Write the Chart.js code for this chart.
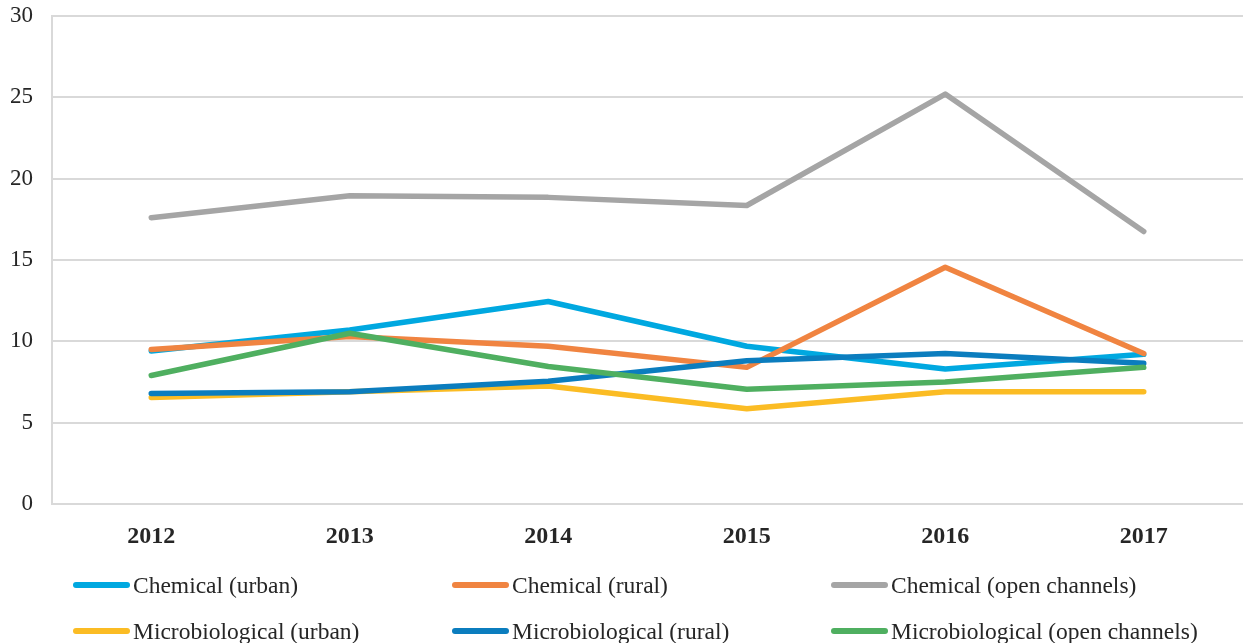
<!DOCTYPE html>
<html>
<head>
<meta charset="utf-8">
<script src="https://cdn.jsdelivr.net/npm/chart.js@4"></script>
<style>
  body { margin: 0; background: #fff; }
  #wrap { position: relative; width: 1243px; height: 643px; }
  #legend { position: absolute; left: 0; top: 0; width: 1243px; height: 643px; pointer-events: none;
            font-family: "Liberation Serif", "Times New Roman", serif; font-size: 23.5px; color: #262626; }
  .item { position: absolute; display: flex; align-items: center; white-space: nowrap; }
  .swatch { width: 57px; height: 6px; border-radius: 3px; margin-right: 3px; }
</style>
</head>
<body>
<div id="wrap">
  <canvas id="grafico" width="1243" height="560"></canvas>
  <div id="legend"></div>
</div>
<script>
// datos
const years = ["2012", "2013", "2014", "2015", "2016", "2017"];
const seriesNames = [
  "Chemical (urban)", "Chemical (rural)", "Chemical (open channels)",
  "Microbiological (urban)", "Microbiological (rural)", "Microbiological (open channels)"
];
const chemUrban = [9.4, 10.7, 12.45, 9.7, 8.3, 9.2];
const chemRural = [9.5, 10.3, 9.7, 8.4, 14.55, 9.25];
const chemOpen = [17.6, 18.95, 18.85, 18.35, 25.2, 16.75];
const microUrban = [6.55, 6.9, 7.25, 5.85, 6.9, 6.9];
const microRural = [6.8, 6.9, 7.55, 8.8, 9.25, 8.65];
const microOpen = [7.9, 10.5, 8.45, 7.05, 7.5, 8.4];
const colors = ["#00A8E0", "#F08441", "#A5A5A5", "#FBBC24", "#0B7DBE", "#4FAF60"];
const yTicks = [0, 5, 10, 15, 20, 25, 30];

const values = [chemUrban, chemRural, chemOpen, microUrban, microRural, microOpen];

const datasets = values.map((v, i) => ({
  label: seriesNames[i],
  data: v,
  borderColor: colors[i],
  backgroundColor: colors[i],
  borderWidth: 5.5,
  pointRadius: 0,
  tension: 0,
  borderCapStyle: "round",
  borderJoinStyle: "round",
  order: values.length - i // la última serie queda encima
}));

new Chart(document.getElementById("grafico"), {
  type: "line",
  data: { labels: years, datasets: datasets },
  options: {
    responsive: false,
    animation: false,
    layout: { padding: 0 },
    plugins: { legend: { display: false }, tooltip: { enabled: false } },
    scales: {
      x: {
        offset: true,
        grid: { display: false },
        border: { display: true, color: "#d9d9d9", width: 2 },
        ticks: {
          color: "#262626",
          padding: 10,
          font: { family: "'Liberation Serif', serif", size: 24, weight: "bold" }
        },
        afterFit: s => { s.height = 56; }
      },
      y: {
        min: 0,
        max: 30,
        afterBuildTicks: s => { s.ticks = yTicks.map(v => ({ value: v })); },
        grid: { color: "#d9d9d9", lineWidth: 2, drawTicks: false },
        border: { display: true, color: "#d9d9d9", width: 2 },
        ticks: {
          color: "#262626",
          padding: 19,
          font: { family: "'Liberation Serif', serif", size: 23 }
        },
        afterFit: s => { s.width = 52; s.paddingTop = 16; s.paddingBottom = 0; }
      }
    }
  }
});

// leyenda en 3 columnas
const legend = document.getElementById("legend");
const colX = [73, 452, 831];
const rowY = [585, 631];
seriesNames.forEach((name, i) => {
  const item = document.createElement("div");
  item.className = "item";
  item.style.left = colX[i % 3] + "px";
  item.style.top = (rowY[Math.floor(i / 3)] - 14) + "px";
  item.style.height = "28px";
  const sw = document.createElement("span");
  sw.className = "swatch";
  sw.style.background = colors[i];
  const txt = document.createElement("span");
  txt.textContent = name;
  item.appendChild(sw);
  item.appendChild(txt);
  legend.appendChild(item);
});
</script>
</body>
</html>
